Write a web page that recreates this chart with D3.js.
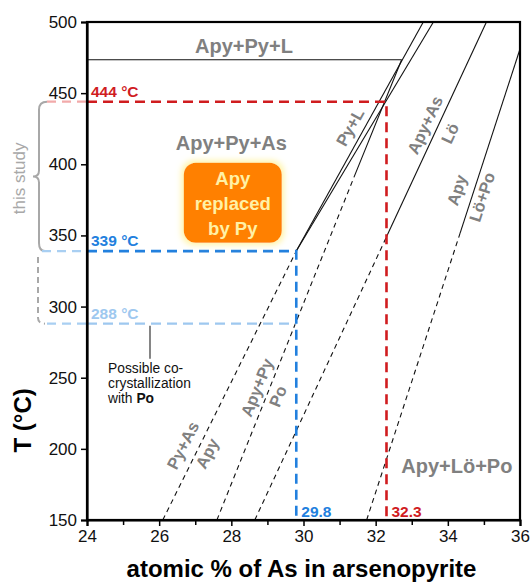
<!DOCTYPE html>
<html>
<head>
<meta charset="utf-8">
<title>Arsenopyrite geothermometer</title>
<script type="text/javascript" src="https://d3js.org/d3.v7.js"></script>
<style>
    * { margin: 0; padding: 0; }
    body { background: #fff; }
    #chart-container { width: 531px; height: 582px; }
    text { font-family: "Liberation Sans", Arial, sans-serif; }
</style>
</head>
<body>
<div id="chart-container"></div>
<script type="text/javascript">

// axis ticks
const xTicks = [24, 26, 28, 30, 32, 34, 36];
const xMinorTicks = [25, 27, 29, 31, 33, 35];
const yTicks = [150, 200, 250, 300, 350, 400, 450, 500];

// phase boundaries, [atomic % As, T °C]
const solidLines = [
    [[24, 473.5], [32.72, 473.5]],
    [[29.8, 339], [33.32, 500]],
    [[29.8, 339], [33.6, 500]],
    [[31.4, 391], [32.72, 473.5]],
    [[32.3, 349], [35.07, 500]],
    [[34.34, 351.6], [36, 481]]
];
const dashedLines = [
    [[26.1, 150], [29.8, 339]],
    [[27.6, 150], [31.4, 391]],
    [[28.65, 150], [32.3, 349]],
    [[31.75, 150], [34.34, 351.6]]
];

// estimates from this study
const tHigh = 444, tMid = 339, tLow = 288;
const asHigh = 32.3, asLow = 29.8;

// field labels: text, x, T
const fieldLabels = [
    ["Apy+Py+L", 28.35, 478],
    ["Apy+Py+As", 28.0, 410],
    ["Apy+Lö+Po", 34.25, 183]
];
// labels along boundaries: text, x, T, angle
const lineLabels = [
    ["Py+L", 31.29, 426, -61],
    ["Apy+As", 33.37, 427.6, -65],
    ["Lö", 34.06, 421.7, -65],
    ["Apy", 34.25, 381.8, -72],
    ["Lö+Po", 34.95, 377, -72],
    ["Py+As", 26.66, 202.4, -63],
    ["Apy", 27.33, 196.8, -63],
    ["Apy+Py", 28.71, 243, -68],
    ["Po", 29.29, 237, -68]
];

const width = 531, height = 582;
const margin = { top: 22, right: 11, bottom: 62, left: 87 };

const svg = d3.select("#chart-container")
    .append("svg")
    .attr("width", width)
    .attr("height", height);

const x = d3.scaleLinear().domain([24, 36]).range([margin.left, width - margin.right]);
const y = d3.scaleLinear().domain([150, 500]).range([height - margin.bottom, margin.top]);

const red = "#d01c1f", blue = "#2280de", lightBlue = "#9ec8ef", grey = "#808080";

// glow for the orange box
const defs = svg.append("defs");
const glow = defs.append("filter").attr("id", "glow")
    .attr("x", "-30%").attr("y", "-30%").attr("width", "160%").attr("height", "160%");
glow.append("feMorphology").attr("in", "SourceAlpha").attr("operator", "dilate").attr("radius", 2).attr("result", "d");
glow.append("feGaussianBlur").attr("in", "d").attr("stdDeviation", 3).attr("result", "b");
glow.append("feFlood").attr("flood-color", "#fff3a0");
glow.append("feComposite").attr("in2", "b").attr("operator", "in").attr("result", "g");
const merge = glow.append("feMerge");
merge.append("feMergeNode").attr("in", "g");
merge.append("feMergeNode").attr("in", "SourceGraphic");

const line = d3.line().x(d => x(d[0])).y(d => y(d[1]));

// boundaries
svg.append("g").selectAll("path").data(solidLines).join("path")
    .attr("d", line).attr("fill", "none").attr("stroke", "#111").attr("stroke-width", 1.1);
svg.append("g").selectAll("path").data(dashedLines).join("path")
    .attr("d", line).attr("fill", "none").attr("stroke", "#111").attr("stroke-width", 1.1)
    .attr("stroke-dasharray", "5,4");

// study brackets outside the axis
const bx = 39;
svg.append("path")
    .attr("d", `M47,${y(tHigh)} q-8,0 -8,8 L${bx},${(y(tHigh) + y(tMid)) / 2 - 6} q0,6 -6,6 q6,0 6,6 L${bx},${y(tMid) - 8} q0,8 6,8`)
    .attr("fill", "none").attr("stroke", "#a8a8a8").attr("stroke-width", 2);
svg.append("path")
    .attr("d", `M${bx - 1},${y(tMid) + 6} L${bx - 1},${y(tLow) - 6} q0,6 7,6`)
    .attr("fill", "none").attr("stroke", "#a8a8a8").attr("stroke-width", 2)
    .attr("stroke-dasharray", "6,4");
svg.append("text")
    .attr("transform", `translate(25,${(y(tHigh) + y(tMid)) / 2 + 2}) rotate(-90)`)
    .attr("text-anchor", "middle").attr("font-size", 17).attr("fill", "#a8a8a8")
    .text("this study");

// pale extensions left of the axis
const ext = [[tHigh, "#f2aaaa", 47], [tMid, "#a9cff2", 42], [tLow, "#a9cff2", 47]];
svg.append("g").selectAll("line").data(ext).join("line")
    .attr("x1", d => d[2]).attr("x2", x(24))
    .attr("y1", d => y(d[0])).attr("y2", d => y(d[0]))
    .attr("stroke", d => d[1]).attr("stroke-width", 2.2).attr("stroke-dasharray", "9,6");

// study lines
function studyBox(t, a, color) {
    svg.append("path")
        .attr("d", line([[24, t], [a, t], [a, 150]]))
        .attr("fill", "none").attr("stroke", color).attr("stroke-width", 2.6)
        .attr("stroke-dasharray", "10,6");
}
svg.append("path")
    .attr("d", line([[24, tLow], [asLow, tLow]]))
    .attr("fill", "none").attr("stroke", lightBlue).attr("stroke-width", 2.4)
    .attr("stroke-dasharray", "10,6");
studyBox(tMid, asLow, blue);
studyBox(tHigh, asHigh, red);

// annotation for co-crystallization
svg.append("line")
    .attr("x1", 150).attr("x2", 150).attr("y1", y(tLow) + 2).attr("y2", y(tLow) + 35)
    .attr("stroke", "#444").attr("stroke-width", 1.3);
const noteLines = ["Possible co-", "crystallization"];
svg.append("g").selectAll("text").data(noteLines).join("text")
    .attr("x", 108).attr("y", (d, i) => 373 + i * 15)
    .attr("font-size", 13.8).attr("fill", "#111").text(d => d);
const note = svg.append("text").attr("x", 108).attr("y", 403).attr("font-size", 13.8).attr("fill", "#111");
note.append("tspan").text("with ");
note.append("tspan").attr("font-weight", "bold").text("Po");

// temperature / composition readouts
const readouts = [
    [tHigh + "\u00a0°C", red, 24, tHigh],
    [tMid + "\u00a0°C", blue, 24, tMid],
    [tLow + "\u00a0°C", lightBlue, 24, tLow]
];
svg.append("g").selectAll("text").data(readouts).join("text")
    .attr("x", d => x(d[2]) + 4).attr("y", d => y(d[3]) - 5)
    .attr("font-size", 15.5).attr("font-weight", "bold").attr("fill", d => d[1])
    .text(d => d[0]);
const compReadouts = [[asLow.toFixed(1), blue], [asHigh.toFixed(1), red]];
const compX = [asLow, asHigh];
svg.append("g").selectAll("text").data(compReadouts).join("text")
    .attr("x", (d, i) => x(compX[i]) + 5).attr("y", y(150) - 3)
    .attr("font-size", 15.5).attr("font-weight", "bold").attr("fill", d => d[1])
    .text(d => d[0]);

// orange box
const box = svg.append("g").attr("transform", `translate(${x(28.04)},${y(373)})`);
box.append("rect").attr("x", -49).attr("y", -40).attr("width", 98).attr("height", 80)
    .attr("rx", 12).attr("fill", "#ff8000").attr("filter", "url(#glow)");
box.append("text").attr("text-anchor", "middle").attr("font-size", 18.5).attr("fill", "#fff1a6")
    .attr("font-weight", "bold")
    .selectAll("tspan").data(["Apy", "replaced", "by Py"]).join("tspan")
    .attr("x", 0).attr("y", (d, i) => -18 + i * 25).text(d => d);

// field labels
svg.append("g").selectAll("text").data(fieldLabels).join("text")
    .attr("x", d => x(d[1])).attr("y", d => y(d[2]))
    .attr("text-anchor", "middle").attr("font-size", 20).attr("font-weight", "bold")
    .attr("fill", grey).text(d => d[0]);
svg.append("g").selectAll("text").data(lineLabels).join("text")
    .attr("transform", d => `translate(${x(d[1])},${y(d[2])}) rotate(${d[3]})`)
    .attr("text-anchor", "middle").attr("dy", "0.35em")
    .attr("font-size", 16.5).attr("font-weight", "bold").attr("fill", grey)
    .text(d => d[0]);

// frame
svg.append("rect")
    .attr("x", x(24)).attr("y", y(500))
    .attr("width", x(36) - x(24)).attr("height", y(150) - y(500))
    .attr("fill", "none").attr("stroke", "#000").attr("stroke-width", 2.2);

// axes
svg.append("g").attr("transform", `translate(0,${y(150)})`)
    .call(d3.axisBottom(x).tickValues(xTicks).tickSize(6).tickPadding(4).tickFormat(d3.format("d")));
svg.append("g").attr("transform", `translate(0,${y(150)})`)
    .call(d3.axisBottom(x).tickValues(xMinorTicks).tickSize(5).tickFormat(""))
    .call(g => g.select(".domain").remove());
svg.append("g").attr("transform", `translate(${x(24)},0)`)
    .call(d3.axisLeft(y).tickValues(yTicks).tickSize(6).tickPadding(4));
svg.selectAll(".domain").attr("stroke-width", 2.2);
svg.selectAll(".tick line").attr("stroke-width", 1.5);
svg.selectAll(".tick text").attr("font-size", 17).attr("fill", "#111")
    .attr("font-family", "Liberation Sans, Arial, sans-serif");

// axis titles
svg.append("text")
    .attr("x", (x(24) + x(36)) / 2 - 2).attr("y", 577)
    .attr("text-anchor", "middle").attr("font-size", 24).attr("font-weight", "bold")
    .text("atomic % of As in arsenopyrite");
svg.append("text")
    .attr("transform", `translate(31,${y(220)}) rotate(-90)`)
    .attr("text-anchor", "middle").attr("font-size", 24).attr("font-weight", "bold")
    .text("T (°C)");
</script>
</body>
</html>
